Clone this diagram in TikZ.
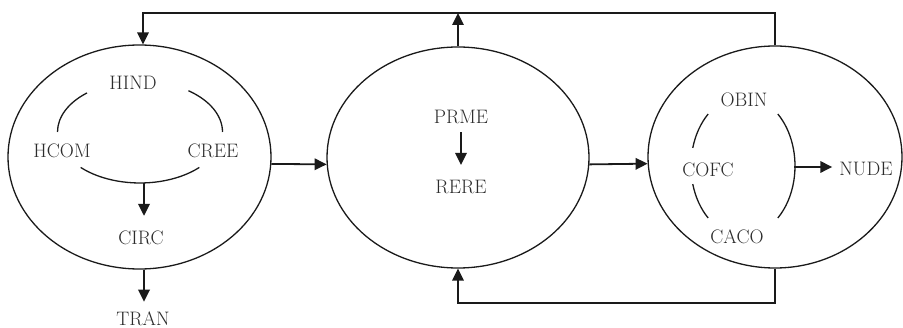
\documentclass[tikz,border=0pt]{standalone}
\usetikzlibrary{shapes.geometric,arrows.meta}
\definecolor{ink}{HTML}{1A1A1A}
\definecolor{txt}{HTML}{2C2C2C}
\begin{document}
\begin{tikzpicture}[x=1pt,y=1pt,
  stage/.style={ellipse,draw=ink,line width=1.3pt,inner sep=0pt},
  lbl/.style={inner sep=0pt,text=txt,font=\fontsize{19.5}{22}\selectfont},
  arc/.style={draw=ink,line width=1.3pt},
  arr/.style={draw=ink,line width=1.8pt,-{Triangle[length=12pt,width=11.5pt]}},
  loop/.style={draw=ink,line width=1.5pt,-{Triangle[length=12pt,width=11.5pt]}}]
\useasboundingbox (0,0) rectangle (903,-328);

% three stages
\node[stage,minimum width=263pt,minimum height=224pt] (E1) at (139.5,-157) {};
\node[stage,minimum width=262pt,minimum height=221pt] (E2) at (458,-157.5) {};
\node[stage,minimum width=254pt,minimum height=222pt] (E3) at (775,-157) {};

% first stage
\node[lbl] (HIND) at (133,-83) {HIND};
\node[lbl] (HCOM) at (62,-151) {HCOM};
\node[lbl] (CREE) at (213,-151) {CREE};
\node[lbl] (CIRC) at (141,-238) {CIRC};
\node[lbl] (TRAN) at (143,-318.5) {TRAN};
\draw[arc] (140,-132) ++(130:82.5pt and 51pt) arc[start angle=130,end angle=180,x radius=82.5pt,y radius=51pt];
\draw[arc] (140,-132) ++(54:82.5pt and 51pt) arc[start angle=54,end angle=0,x radius=82.5pt,y radius=51pt];
\draw[arc] (140,-132) ++(224:82.5pt and 51pt) arc[start angle=224,end angle=316,x radius=82.5pt,y radius=51pt];
\coordinate (cyc) at (144,-183);
\draw[arr,shorten >=15pt] (cyc) -- (cyc |- CIRC.north);
\draw[arr,shorten >=9.5pt] (E1.south -| cyc) -- (cyc |- TRAN.north);

% second stage
\node[lbl] (PRME) at (461,-117) {PRME};
\node[lbl] (RERE) at (461,-187) {RERE};
\draw[arr,shorten <=8pt,shorten >=15pt] (PRME.south) -- (RERE.north);

% third stage
\node[lbl] (OBIN) at (744,-100) {OBIN};
\node[lbl] (COFC) at (708,-170) {COFC};
\node[lbl] (CACO) at (737,-237) {CACO};
\node[lbl] (NUDE) at (866,-169) {NUDE};
\draw[arc] (743,-166) ++(132:52pt and 70pt) arc[start angle=132,end angle=165,x radius=52pt,y radius=70pt];
\draw[arc] (743,-166) ++(195:52pt and 70pt) arc[start angle=195,end angle=228,x radius=52pt,y radius=70pt];
\draw[arc] (743,-166) ++(48:52pt and 70pt) arc[start angle=48,end angle=-48,x radius=52pt,y radius=70pt];
\coordinate (ring) at (794,-167);
\draw[arr,shorten >=7pt] (ring) -- (ring -| NUDE.west);

% forward flow
\draw[arr] (E1.-3.5) -- (E2.183.5);
\draw[arr] (E2.-3.5) -- (E3.183.5);

% feedback loops
\coordinate (topL) at (143,-13);
\coordinate (botY) at (0,-303);
\draw[loop] (E3.north) |- (topL) -- (topL |- E1.north);
\draw[loop] (E2.north) -- (E2.north |- topL);
\draw[loop] (E3.south) -- (E3.south |- botY) -| (E2.south);
\end{tikzpicture}
\end{document}
